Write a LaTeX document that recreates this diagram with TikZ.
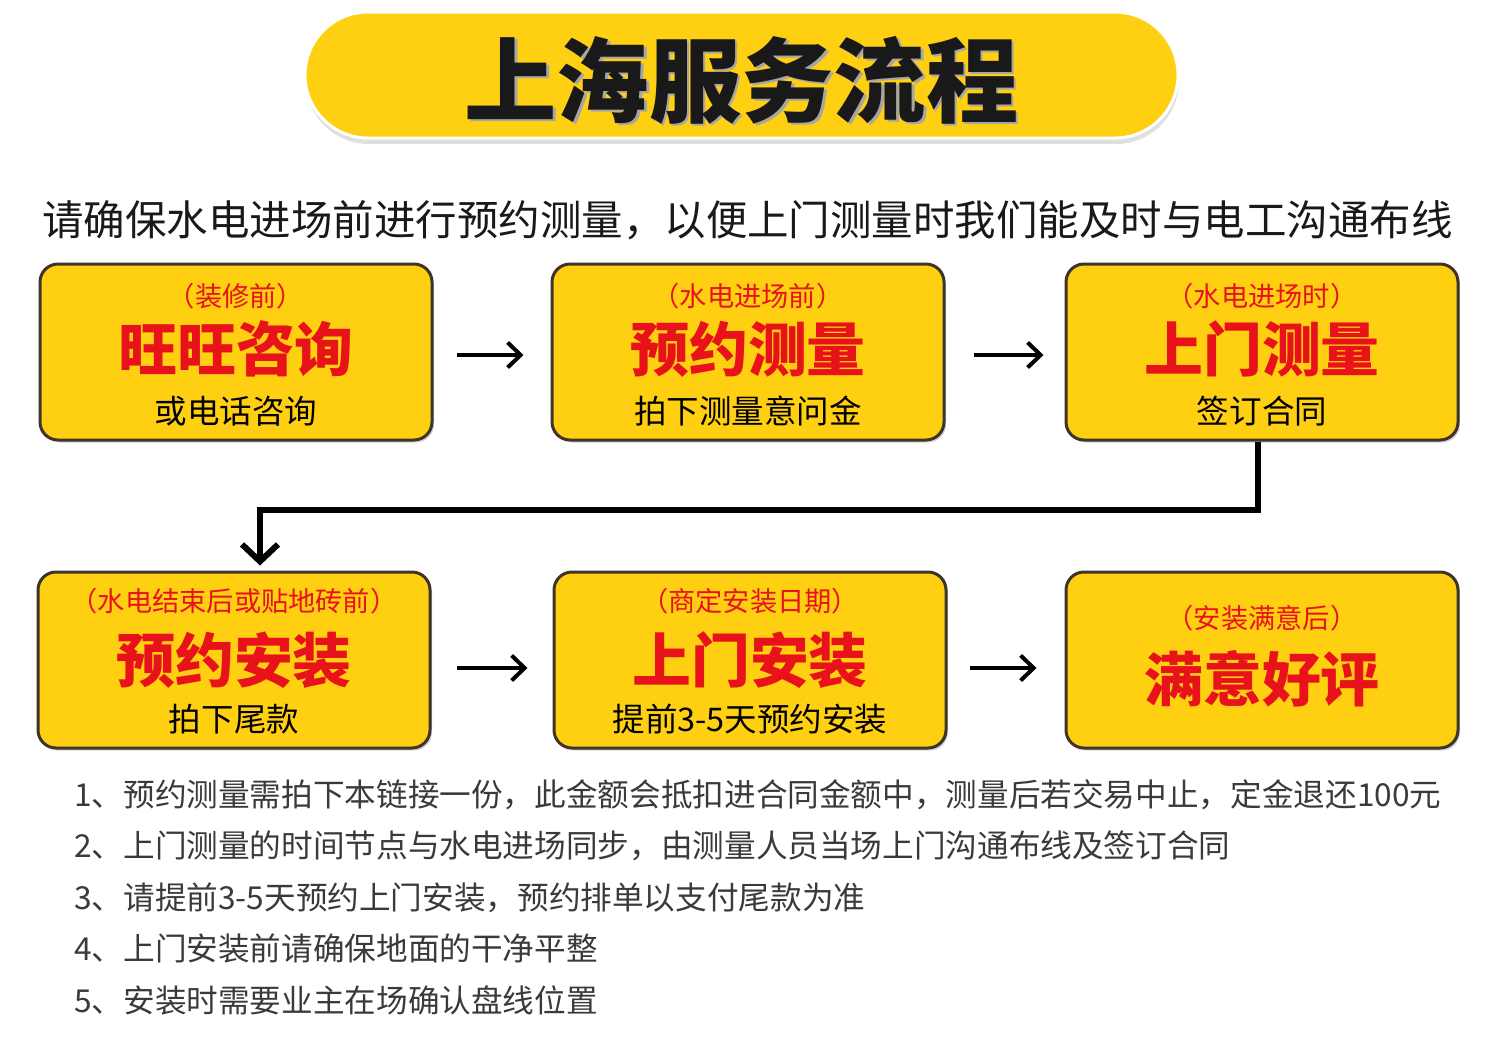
\documentclass[tikz,border=0pt]{standalone}
\usepackage{fontspec}
\setmainfont{Noto Sans CJK SC}
\usepackage{xcolor}
\usepackage{tikz}
\usetikzlibrary{shadows, arrows.meta, positioning}

\definecolor{boxyellow}{RGB}{255,207,18}
\definecolor{boxred}{RGB}{232,18,26}
\definecolor{boxline}{RGB}{62,52,40}
\definecolor{notegrey}{RGB}{58,58,58}

\begin{document}
\begin{tikzpicture}[node distance=2.34cm,
    box/.style={draw=boxline, line width=0.06cm, fill=boxyellow, rounded corners=0.36cm, minimum width=7.84cm, minimum height=3.52cm, drop shadow={shadow xshift=0.04cm, shadow yshift=-0.05cm, opacity=0.35}},
    tag/.style={text=boxred, font=\fontsize{15.5}{18}\selectfont},
    head/.style={text=boxred, font=\bfseries\fontsize{33.5}{40}\selectfont},
    sub/.style={text=black, font=\fontsize{18.5}{22}\selectfont},
    note/.style={anchor=west, text=notegrey, font=\fontsize{18}{22}\selectfont},
    flow/.style={line width=0.08cm, -{Straight Barb[length=0.26cm, width=0.5cm]}}]
    \useasboundingbox (0,0) rectangle (30,-21.04);

    % title bar
    \node (title) [fill=boxyellow, draw=white, line width=0.06cm, rounded corners=1.26cm, minimum width=17.46cm, minimum height=2.52cm, drop shadow={shadow xshift=0.02cm, shadow yshift=-0.12cm, opacity=0.25}] at (14.83,-1.5) {};
    \node (titleShadow) [text=black!35, font=\bfseries\fontsize{52.5}{60}\selectfont] at ([shift={(0.05,-0.15)}]title.center) {上海服务流程};
    \node (titleText) [text=black!90, font=\bfseries\fontsize{52.5}{60}\selectfont] at ([yshift=-0.1cm]title.center) {上海服务流程};

    \node (intro) [text=black!90, font=\fontsize{23.6}{28}\selectfont] at (14.95,-4.4) {请确保水电进场前进行预约测量，以便上门测量时我们能及时与电工沟通布线};

    % first row
    \node (consult) [box] at (4.72,-7.04) {};
    \node (book) [box, right=of consult] {};
    \node (measure) [box, right=2.38cm of book] {};
    % second row
    \node (install) [box] at (4.68,-13.2) {};
    \node (visit) [box, right=2.42cm of install] {};
    \node (review) [box, right=of visit] {};

    \node (consultTag) [tag] at ([yshift=1.12cm]consult.center) {（装修前）};
    \node (consultHead) [head] at ([yshift=0.06cm]consult.center) {旺旺咨询};
    \node (consultSub) [sub] at ([yshift=-1.18cm]consult.center) {或电话咨询};

    \node (bookTag) [tag] at ([yshift=1.12cm]book.center) {（水电进场前）};
    \node (bookHead) [head] at ([yshift=0.06cm]book.center) {预约测量};
    \node (bookSub) [sub] at ([yshift=-1.18cm]book.center) {拍下测量意问金};

    \node (measureTag) [tag] at ([yshift=1.12cm]measure.center) {（水电进场时）};
    \node (measureHead) [head] at ([yshift=0.06cm]measure.center) {上门测量};
    \node (measureSub) [sub] at ([yshift=-1.18cm]measure.center) {签订合同};

    \node (installTag) [tag] at ([yshift=1.18cm]install.center) {（水电结束后或贴地砖前）};
    \node (installHead) [head] at ([yshift=0.0cm]install.center) {预约安装};
    \node (installSub) [sub] at ([yshift=-1.18cm]install.center) {拍下尾款};

    \node (visitTag) [tag] at ([yshift=1.18cm]visit.center) {（商定安装日期）};
    \node (visitHead) [head] at ([yshift=0.0cm]visit.center) {上门安装};
    \node (visitSub) [sub] at ([yshift=-1.18cm]visit.center) {提前3-5天预约安装};

    \node (reviewTag) [tag] at ([yshift=0.84cm]review.center) {（安装满意后）};
    \node (reviewHead) [head] at ([yshift=-0.38cm]review.center) {满意好评};

    \draw [flow, shorten <=0.46cm, shorten >=0.54cm] ([yshift=-0.06cm]consult.east) -- ([yshift=-0.06cm]book.west);
    \draw [flow, shorten <=0.56cm, shorten >=0.42cm] ([yshift=-0.06cm]book.east) -- ([yshift=-0.06cm]measure.west);
    \draw [flow, shorten <=0.5cm, shorten >=0.5cm] ([yshift=-0.16cm]install.east) -- ([yshift=-0.16cm]visit.west);
    \draw [flow, shorten <=0.44cm, shorten >=0.56cm] ([yshift=-0.16cm]visit.east) -- ([yshift=-0.16cm]review.west);
    \draw [line width=0.12cm, -{Straight Barb[length=0.34cm, width=0.72cm]}, shorten >=0.1cm] ([xshift=-0.08cm]measure.south) -- ++(0,-1.36) -| ([xshift=0.52cm]install.north);

    % notes
    \foreach \txt [count=\i] in {预约测量需拍下本链接一份，此金额会抵扣进合同金额中，测量后若交易中止，定金退还100元, 上门测量的时间节点与水电进场同步，由测量人员当场上门沟通布线及签订合同, 请提前3-5天预约上门安装，预约排单以支付尾款为准, 上门安装前请确保地面的干净平整, 安装时需要业主在场确认盘线位置}
        \node (note\i) [note] at (1.36,{-15.9-(\i-1)*1.025}) {\i、\txt};
\end{tikzpicture}
\end{document}
